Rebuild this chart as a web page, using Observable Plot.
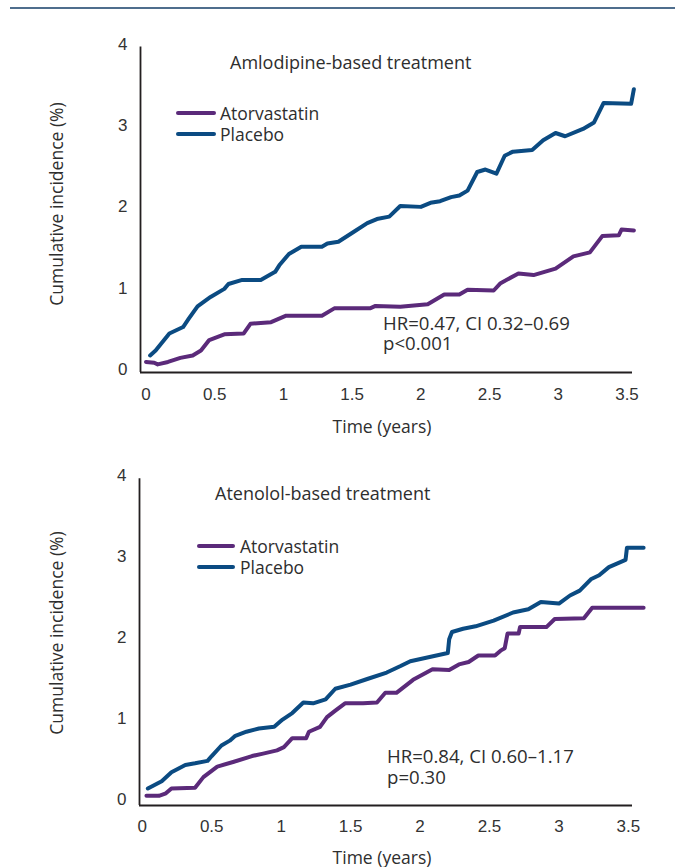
<!DOCTYPE html>
<html><head><meta charset="utf-8">
<script src="https://cdn.jsdelivr.net/npm/d3@7"></script>
<script src="https://cdn.jsdelivr.net/npm/@observablehq/plot@0.6"></script>
<style>
body{margin:0;background:#fff;width:685px;height:867px;position:relative;overflow:hidden;font-family:"Open Sans",sans-serif;color:#2e2e2e}
.abs{position:absolute;white-space:nowrap;line-height:1}
.txt{font-size:17.5px}
.big{font-size:18px}
.hr{font-size:18.6px}
.cx{transform:translate(-50%,-50%)}
.cy{transform:translateY(-50%)}
.rot{transform:translate(-50%,-50%) rotate(-90deg)}
</style></head><body>
<div class="abs" style="left:10px;top:7px;width:665px;height:2px;background:#4f6e8d"></div>
<div id="c1" class="abs" style="left:0;top:0"></div>
<div id="c2" class="abs" style="left:0;top:440px"></div>
<script>
// ---- data ----
const seriesNames = ["Atorvastatin", "Placebo"];
const seriesColors = ["#5b2a7a", "#0b4b82"];
const xTicks = [0, 0.5, 1, 1.5, 2, 2.5, 3, 3.5];
const yTicks = [0, 1, 2, 3, 4];
const titles = ["Amlodipine-based treatment", "Atenolol-based treatment"];
const stats = [["HR=0.47, CI 0.32–0.69", "p<0.001"], ["HR=0.84, CI 0.60–1.17", "p=0.30"]];
const xLabel = "Time (years)";
const yLabel = "Cumulative incidence (%)";

// Amlodipine-based: [time, cumulative incidence]
const amloAtorva = [[0,0.09],[0.06,0.08],[0.085,0.06],[0.16,0.09],[0.25,0.14],[0.34,0.17],[0.40,0.23],[0.46,0.36],[0.57,0.43],[0.71,0.44],[0.76,0.56],[0.91,0.58],[1.02,0.66],[1.28,0.66],[1.37,0.75],[1.63,0.75],[1.67,0.78],[1.85,0.77],[2.05,0.80],[2.17,0.92],[2.28,0.92],[2.34,0.98],[2.53,0.97],[2.58,1.06],[2.71,1.18],[2.82,1.16],[2.98,1.24],[3.11,1.39],[3.23,1.44],[3.32,1.64],[3.44,1.65],[3.46,1.72],[3.55,1.71]];
const amloPlacebo = [[0.03,0.17],[0.07,0.23],[0.17,0.44],[0.27,0.52],[0.31,0.62],[0.375,0.775],[0.47,0.89],[0.57,0.99],[0.60,1.05],[0.70,1.10],[0.835,1.10],[0.94,1.20],[0.97,1.28],[1.04,1.42],[1.13,1.51],[1.28,1.51],[1.32,1.55],[1.40,1.57],[1.51,1.69],[1.61,1.80],[1.68,1.85],[1.77,1.88],[1.85,2.01],[2.00,2.00],[2.07,2.05],[2.14,2.07],[2.22,2.12],[2.28,2.14],[2.34,2.20],[2.41,2.43],[2.47,2.46],[2.55,2.41],[2.61,2.63],[2.67,2.68],[2.81,2.70],[2.89,2.82],[2.98,2.91],[3.05,2.87],[3.18,2.96],[3.26,3.04],[3.33,3.28],[3.53,3.27],[3.55,3.45]];
// Atenolol-based
const atenAtorva = [[0.03,0.05],[0.12,0.05],[0.17,0.08],[0.21,0.14],[0.38,0.15],[0.44,0.28],[0.54,0.41],[0.66,0.47],[0.79,0.54],[0.87,0.57],[0.97,0.61],[1.02,0.65],[1.08,0.76],[1.18,0.76],[1.20,0.84],[1.28,0.90],[1.33,1.02],[1.39,1.10],[1.46,1.19],[1.59,1.19],[1.69,1.20],[1.75,1.32],[1.83,1.32],[1.95,1.48],[2.09,1.61],[2.21,1.60],[2.28,1.67],[2.35,1.70],[2.42,1.78],[2.54,1.78],[2.58,1.84],[2.61,1.87],[2.63,2.05],[2.71,2.05],[2.72,2.13],[2.91,2.13],[2.97,2.23],[3.18,2.24],[3.24,2.37],[3.61,2.37]];
const atenPlacebo = [[0.04,0.14],[0.14,0.23],[0.21,0.34],[0.31,0.43],[0.38,0.45],[0.47,0.48],[0.50,0.54],[0.57,0.67],[0.63,0.73],[0.67,0.79],[0.75,0.84],[0.84,0.88],[0.95,0.90],[1.01,0.99],[1.08,1.07],[1.16,1.20],[1.23,1.19],[1.32,1.24],[1.39,1.37],[1.50,1.42],[1.62,1.49],[1.76,1.57],[1.86,1.65],[1.93,1.71],[2.20,1.81],[2.21,1.98],[2.23,2.07],[2.31,2.11],[2.40,2.14],[2.53,2.21],[2.67,2.31],[2.78,2.35],[2.87,2.44],[3.00,2.42],[3.08,2.52],[3.15,2.58],[3.23,2.72],[3.29,2.77],[3.36,2.87],[3.48,2.96],[3.49,3.11],[3.61,3.11]];

function rows(a, p) {
  return [
    ...a.map(([t, v]) => ({t, v, series: seriesNames[0]})),
    ...p.map(([t, v]) => ({t, v, series: seriesNames[1]}))
  ];
}

function chart(o) {
  return Plot.plot({
    width: 685, height: o.height,
    marginTop: o.mt, marginBottom: o.mb, marginLeft: o.ml, marginRight: o.mr,
    style: {fontFamily: "'Liberation Sans', Arial, sans-serif", fontSize: "17px", color: "#333", overflow: "visible", background: "transparent"},
    x: {domain: o.xd, ticks: xTicks, tickSize: 0, tickPadding: o.xpad, label: null, tickFormat: d => String(d)},
    y: {domain: o.yd, ticks: yTicks, tickSize: 0, tickPadding: 13, label: null, tickFormat: d => String(d)},
    color: {domain: seriesNames, range: seriesColors},
    marks: [
      Plot.ruleY([o.yd[0]], {stroke: "#231f20", strokeWidth: 1.8}),
      Plot.ruleX([o.xd[0]], {y1: o.yd[0], y2: o.ytop, stroke: "#231f20", strokeWidth: 1.8}),
      Plot.line(o.data, {x: "t", y: "v", z: "series", stroke: "series", strokeWidth: 4, strokeLinejoin: "round", strokeLinecap: "round"})
    ]
  });
}

document.getElementById("c1").append(chart({
  data: rows(amloAtorva, amloPlacebo), height: 440, mt: 44, mb: 68, ml: 140, mr: 53,
  xd: [-0.04, 3.54], yd: [-0.04, 4], ytop: 3.97, xpad: 15
}));
document.getElementById("c2").append(chart({
  data: rows(atenAtorva, atenPlacebo), height: 427, mt: 35, mb: 62, ml: 139, mr: 53,
  xd: [-0.02, 3.53], yd: [-0.07, 4], ytop: 3.96, xpad: 14
}));

// ---- text / legends ----
function addText(lines, left, top, cls, lh) {
  const d = document.createElement("div");
  d.className = "abs txt " + cls;
  d.style.left = left + "px"; d.style.top = top + "px";
  if (lh) d.style.lineHeight = lh + "px";
  lines.forEach((s, i) => { if (i) d.append(document.createElement("br")); d.append(document.createTextNode(s)); });
  document.body.append(d);
  return d;
}
function addLegend(x0, x1, textLeft, yTop, gap) {
  const ns = "http://www.w3.org/2000/svg";
  const svg = document.createElementNS(ns, "svg");
  svg.setAttribute("width", 685); svg.setAttribute("height", 867);
  svg.style.position = "absolute"; svg.style.left = "0"; svg.style.top = "0"; svg.style.pointerEvents = "none";
  seriesNames.forEach((name, i) => {
    const l = document.createElementNS(ns, "line");
    l.setAttribute("x1", x0); l.setAttribute("x2", x1);
    l.setAttribute("y1", yTop + i * gap); l.setAttribute("y2", yTop + i * gap);
    l.setAttribute("stroke", seriesColors[i]); l.setAttribute("stroke-width", 4); l.setAttribute("stroke-linecap", "round");
    svg.append(l);
  });
  document.body.append(svg);
  addText(seriesNames, textLeft, yTop - gap / 2, "", gap);
}
// chart 1
addText([titles[0]], 230, 62, "cy big");
addLegend(178, 214, 220, 113, 21);
addText(stats[0], 383, 313, "hr", 20);
addText([yLabel], 57, 204, "rot");
addText([xLabel], 382, 427, "cx");
// chart 2
addText([titles[1]], 215, 493, "cy big");
addLegend(199, 233, 240, 546, 21);
addText(stats[1], 387, 745, "hr", 21);
addText([yLabel], 57, 633, "rot");
addText([xLabel], 382, 857, "cx", 17);
</script>
</body></html>
